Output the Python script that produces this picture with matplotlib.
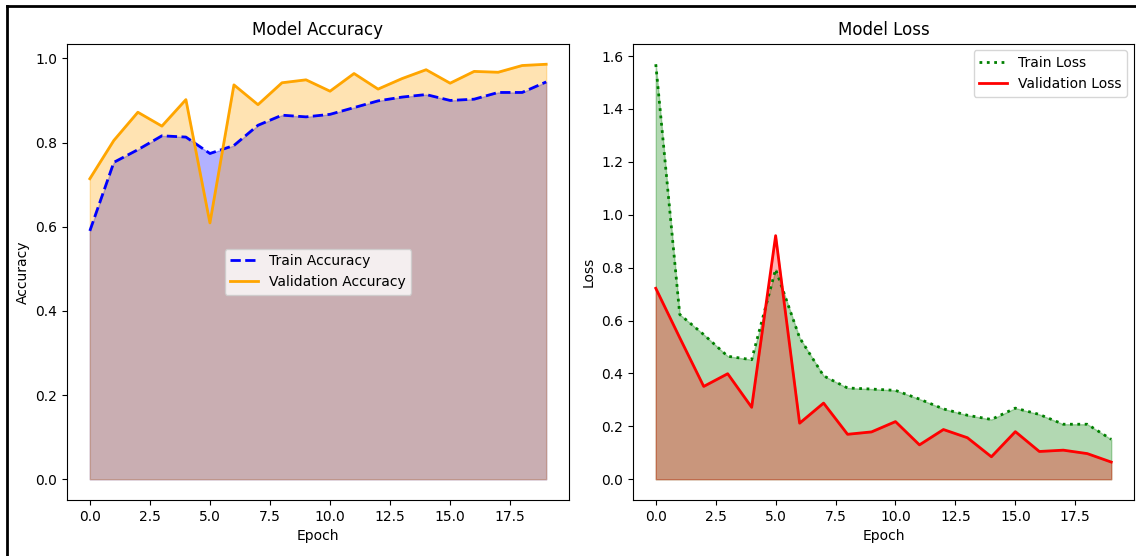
import matplotlib
matplotlib.use("Agg")
import matplotlib.pyplot as plt
from matplotlib.lines import Line2D
import numpy as np

epochs = list(range(20))

train_acc = [0.590, 0.753, 0.783, 0.816, 0.813, 0.774, 0.793, 0.841, 0.865, 0.861,
             0.867, 0.883, 0.899, 0.908, 0.914, 0.900, 0.903, 0.919, 0.919, 0.944]
val_acc = [0.714, 0.805, 0.872, 0.839, 0.902, 0.609, 0.937, 0.890, 0.942, 0.949,
           0.922, 0.964, 0.927, 0.952, 0.973, 0.941, 0.969, 0.967, 0.983, 0.986]

train_loss = [1.569, 0.623, 0.547, 0.465, 0.452, 0.794, 0.535, 0.391, 0.345, 0.341,
              0.336, 0.303, 0.266, 0.242, 0.226, 0.269, 0.245, 0.208, 0.208, 0.151]
val_loss = [0.722, 0.535, 0.351, 0.399, 0.272, 0.921, 0.212, 0.288, 0.170, 0.179,
            0.218, 0.130, 0.188, 0.157, 0.085, 0.180, 0.105, 0.110, 0.097, 0.065]

W, H = 1136, 556
fig = plt.figure(figsize=(W / 100, H / 100), dpi=100)

ax1 = fig.add_axes([67 / W, 1 - 500 / H, (569 - 67) / W, (500 - 43.5) / H])
ax2 = fig.add_axes([633 / W, 1 - 500 / H, (1134 - 633) / W, (500 - 43.5) / H])

# Accuracy
ax1.plot(epochs, train_acc, color="blue", linestyle="--", linewidth=2, label="Train Accuracy")
ax1.plot(epochs, val_acc, color="orange", linestyle="-", linewidth=2, label="Validation Accuracy")
ax1.fill_between(epochs, train_acc, color="blue", alpha=0.3)
ax1.fill_between(epochs, val_acc, color="orange", alpha=0.3)
ax1.set_title("Model Accuracy", fontsize=12)
ax1.set_xlabel("Epoch")
ax1.set_ylabel("Accuracy")
ax1.legend(loc="center")

# Loss
ax2.plot(epochs, train_loss, color="green", linestyle=":", linewidth=2, label="Train Loss")
ax2.plot(epochs, val_loss, color="red", linestyle="-", linewidth=2, label="Validation Loss")
ax2.fill_between(epochs, train_loss, color="green", alpha=0.3)
ax2.fill_between(epochs, val_loss, color="red", alpha=0.3)
ax2.set_title("Model Loss", fontsize=12)
ax2.set_xlabel("Epoch")
ax2.set_ylabel("Loss")
ax2.legend(loc="upper right")

# Outer screenshot frame
fig.add_artist(Line2D([7 / W, 1.0], [1 - 6 / H, 1 - 6 / H], color="black", linewidth=2,
                      transform=fig.transFigure))
fig.add_artist(Line2D([7 / W, 7 / W], [0.0, 1 - 6 / H], color="black", linewidth=2,
                      transform=fig.transFigure))

fig.savefig("out.png", dpi=100)
